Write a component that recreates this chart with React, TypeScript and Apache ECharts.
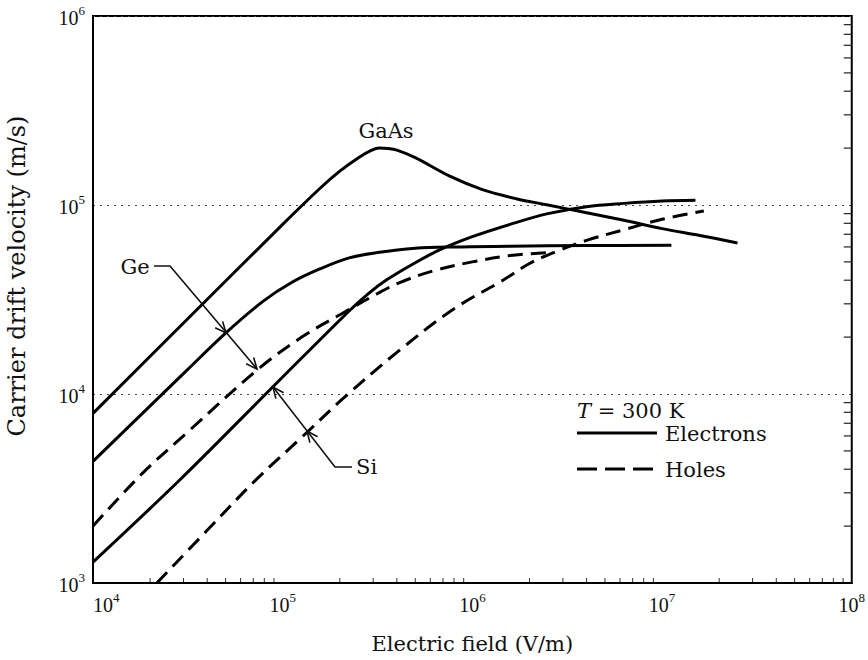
import React, { useEffect, useRef } from 'react';
import * as echarts from 'echarts';

// Axis decades (exponents of 10)
const xDecades = [4, 5, 6, 7, 8];
const yDecades = [3, 4, 5, 6];
const minorMultipliers = [2, 3, 4, 5, 6, 7, 8, 9];

// GaAs electrons (solid)
const gaasElectronsE = [1e4, 3.16e4, 1e5, 1.58e5, 2.0e5, 2.51e5, 2.95e5, 3.24e5, 3.6e5, 4.0e5, 5.0e5, 7.6e5, 1.12e6, 1.7e6, 2.5e6, 4.0e6, 6.3e6, 1.0e7, 1.58e7, 2.5e7];
const gaasElectronsV = [7.9e3, 2.5e4, 7.9e4, 1.23e5, 1.51e5, 1.78e5, 1.95e5, 2.0e5, 1.99e5, 1.95e5, 1.78e5, 1.42e5, 1.21e5, 1.08e5, 1.0e5, 9.1e4, 8.3e4, 7.5e4, 6.9e4, 6.3e4];

// Ge electrons (solid)
const geElectronsE = [1e4, 3.16e4, 5.0e4, 7.9e4, 1.12e5, 1.58e5, 2.24e5, 3.16e5, 5.0e5, 7.9e5, 1.58e6, 4.0e6, 1.12e7];
const geElectronsV = [4.4e3, 1.35e4, 2.1e4, 3.1e4, 3.9e4, 4.6e4, 5.25e4, 5.6e4, 5.9e4, 6.0e4, 6.05e4, 6.1e4, 6.12e4];

// Ge holes (dashed)
const geHolesE = [1e4, 1.82e4, 3.16e4, 7.4e4, 1.26e5, 2.09e5, 3.16e5, 4.17e5, 6.3e5, 1e6, 1.58e6, 2.5e6];
const geHolesV = [2.0e3, 3.8e3, 6.3e3, 1.35e4, 2.0e4, 2.69e4, 3.4e4, 3.9e4, 4.5e4, 5.0e4, 5.4e4, 5.6e4];

// Si electrons (solid)
const siElectronsE = [1e4, 2.9e4, 1e5, 2.24e5, 2.82e5, 3.55e5, 5.0e5, 6.8e5, 1e6, 1.58e6, 2.5e6, 4.0e6, 6.3e6, 1e7, 1.5e7];
const siElectronsV = [1.29e3, 3.55e3, 1.23e4, 2.75e4, 3.39e4, 4.03e4, 4.95e4, 5.82e4, 6.8e4, 7.9e4, 9.0e4, 9.8e4, 1.02e5, 1.05e5, 1.06e5];

// Si holes (dashed)
const siHolesE = [2.17e4, 4.0e4, 7.2e4, 1.26e5, 2.09e5, 4.0e5, 7.9e5, 1.45e6, 2.0e6, 2.8e6, 4.0e6, 6.3e6, 1e7, 1.66e7];
const siHolesV = [1.0e3, 1.9e3, 3.5e3, 5.9e3, 9.5e3, 1.66e4, 2.8e4, 4.0e4, 4.9e4, 5.7e4, 6.5e4, 7.4e4, 8.4e4, 9.3e4];

const pair = (e: number[], v: number[]) => e.map((x, i) => [x, v[i]]);

const SERIF = 'Liberation Serif';
const TEXT = 'DejaVu Serif';
const INK = '#111';

function arrowHead(tx: number, ty: number, dx: number, dy: number) {
  const len = Math.hypot(dx, dy);
  const ux = dx / len;
  const uy = dy / len;
  const L = 12;
  const a = (24 * Math.PI) / 180;
  const w1 = [tx - L * (ux * Math.cos(a) - uy * Math.sin(a)), ty - L * (uy * Math.cos(a) + ux * Math.sin(a))];
  const w2 = [tx - L * (ux * Math.cos(a) + uy * Math.sin(a)), ty - L * (uy * Math.cos(a) - ux * Math.sin(a))];
  return {
    type: 'polyline',
    shape: { points: [w1, [tx, ty], w2] },
    style: { stroke: INK, lineWidth: 1.6, fill: 'none' },
    z: 10,
  };
}

export default function App() {
  const ref = useRef<HTMLDivElement>(null);

  useEffect(() => {
    const chart = echarts.init(ref.current!, null, { renderer: 'svg' });
    const supLabel = (v: number) => `{b|10}{s|${Math.round(Math.log10(v))}}`;
    const rich = {
      b: { fontSize: 20, fontFamily: SERIF, color: INK, lineHeight: 24, verticalAlign: 'bottom' },
      s: { fontSize: 13, fontFamily: SERIF, color: INK, lineHeight: 14, verticalAlign: 'top' },
    };
    const lineSeries = (name: string, e: number[], v: number[], dashed: boolean) => ({
      type: 'line',
      name,
      data: pair(e, v),
      symbol: 'none',
      showSymbol: false,
      smooth: 0.35,
      lineStyle: { color: '#000', width: 3, type: dashed ? [15, 8] : 'solid', cap: 'butt', join: 'round' },
      z: 5,
    });

    chart.setOption({
      animation: false,
      backgroundColor: '#fff',
      grid: { left: 93, right: 16, top: 16, bottom: 77, show: true, borderColor: '#000', borderWidth: 2, backgroundColor: 'transparent' },
      xAxis: {
        type: 'log',
        logBase: 10,
        min: Math.pow(10, xDecades[0]),
        max: Math.pow(10, xDecades[xDecades.length - 1]),
        name: 'Electric field (V/m)',
        nameLocation: 'middle',
        nameGap: 50,
        nameTextStyle: { fontFamily: TEXT, fontSize: 21, color: INK },
        axisLine: { show: true, lineStyle: { color: '#000', width: 2 } },
        axisTick: { show: false },
        axisLabel: { formatter: supLabel, rich, margin: 8, alignMinLabel: 'left', showMinLabel: true, showMaxLabel: true },
        splitLine: { show: false },
      },
      yAxis: {
        type: 'log',
        logBase: 10,
        min: Math.pow(10, yDecades[0]),
        max: Math.pow(10, yDecades[yDecades.length - 1]),
        axisLine: { show: true, lineStyle: { color: '#000', width: 2 } },
        axisTick: { show: false },
        axisLabel: { formatter: supLabel, rich, margin: 8, showMinLabel: true, showMaxLabel: true },
        splitLine: { show: true, lineStyle: { color: '#444', width: 1, type: [2, 5] } },
      },
      series: [
        lineSeries('GaAs electrons', gaasElectronsE, gaasElectronsV, false),
        lineSeries('Ge electrons', geElectronsE, geElectronsV, false),
        lineSeries('Ge holes', geHolesE, geHolesV, true),
        lineSeries('Si electrons', siElectronsE, siElectronsV, false),
        lineSeries('Si holes', siHolesE, siHolesV, true),
      ],
    });

    // Minor tick decorations through the axis scales
    const ticks: any[] = [];
    const rightX = chart.convertToPixel({ xAxisIndex: 0 }, 1e8) as number;
    const bottomY = chart.convertToPixel({ yAxisIndex: 0 }, 1e3) as number;
    for (let i = 0; i < yDecades.length - 1; i++) {
      for (const m of minorMultipliers) {
        const y = chart.convertToPixel({ yAxisIndex: 0 }, m * Math.pow(10, yDecades[i])) as number;
        ticks.push({ type: 'line', shape: { x1: rightX - 8, y1: y, x2: rightX, y2: y }, style: { stroke: '#222', lineWidth: 1.2 } });
      }
    }
    for (let i = 0; i < xDecades.length - 1; i++) {
      for (const m of minorMultipliers) {
        const x = chart.convertToPixel({ xAxisIndex: 0 }, m * Math.pow(10, xDecades[i])) as number;
        ticks.push({ type: 'line', shape: { x1: x, y1: bottomY - 5, x2: x, y2: bottomY }, style: { stroke: '#333', lineWidth: 1 } });
      }
    }

    const txt = (text: string, x: number, y: number, align = 'left', rich?: any) => ({
      type: 'text',
      x,
      y,
      z: 10,
      style: { text, fontFamily: TEXT, fontSize: 21, fill: INK, align, verticalAlign: 'middle', rich },
    });

    chart.setOption({
      graphic: [
        ...ticks,
        {
          type: 'text',
          x: 17,
          y: 276,
          rotation: Math.PI / 2,
          z: 10,
          style: { text: 'Carrier drift velocity (m/s)', fontFamily: TEXT, fontSize: 24, fill: INK, align: 'center', verticalAlign: 'middle' },
        },
        txt('GaAs', 386, 131, 'center'),
        txt('Ge', 135, 267, 'center'),
        { type: 'polyline', shape: { points: [[154, 266], [170, 266], [257, 369]] }, style: { stroke: INK, lineWidth: 1.6, fill: 'none' }, z: 10 },
        arrowHead(226, 333, 87, 103),
        arrowHead(257, 369, 87, 103),
        txt('Si', 356, 467, 'left'),
        { type: 'polyline', shape: { points: [[273, 387], [335, 467], [352, 467]] }, style: { stroke: INK, lineWidth: 1.6, fill: 'none' }, z: 10 },
        arrowHead(273, 387, -62, -80),
        arrowHead(307, 431, -62, -80),
        txt('{i|T} = 300 K', 577, 411, 'left', { i: { fontStyle: 'italic', fontFamily: TEXT, fontSize: 21, fill: INK } }),
        { type: 'line', shape: { x1: 577, y1: 433, x2: 657, y2: 433 }, style: { stroke: '#000', lineWidth: 3 }, z: 10 },
        txt('Electrons', 665, 434, 'left'),
        { type: 'line', shape: { x1: 577, y1: 469, x2: 657, y2: 469 }, style: { stroke: '#000', lineWidth: 3, lineDash: [20, 8] }, z: 10 },
        txt('Holes', 665, 470, 'left'),
      ],
    });

    return () => chart.dispose();
  }, []);

  return <div ref={ref} style={{ position: 'fixed', left: 0, top: 0, width: 868, height: 660 }} />;
}
